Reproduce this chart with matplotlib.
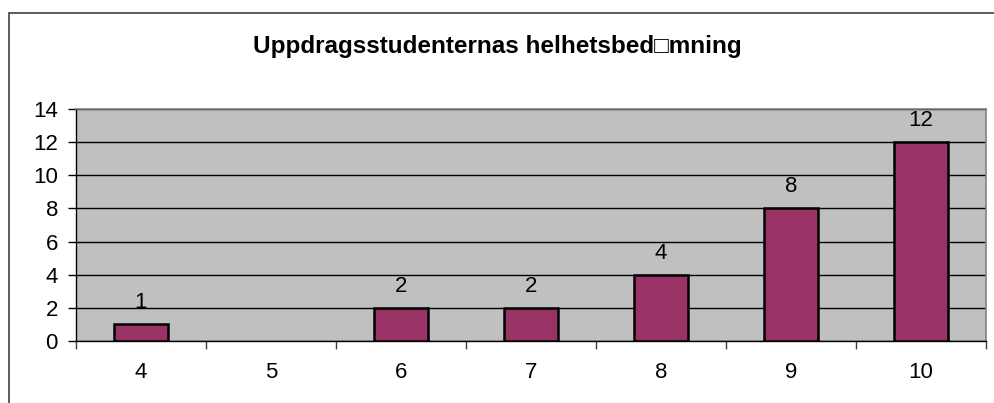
import numpy as np
import matplotlib.pyplot as plt
from matplotlib.patches import Rectangle

# data
grades = ["4", "5", "6", "7", "8", "9", "10"]
counts = [1, 0, 2, 2, 4, 8, 12]
title = "Uppdragsstudenternas helhetsbed\u25a1mning"

plt.rcParams['font.family'] = ['Liberation Sans', 'DejaVu Sans']

W, H = 994, 403
fig = plt.figure(figsize=(W / 100, H / 100), dpi=100)

# plot area in pixels
left, right, top, bottom = 76, 986, 109, 341
ax = fig.add_axes([left / W, 1 - bottom / H, (right - left) / W, (bottom - top) / H])

# outer chart frame (cropped at right / bottom)
fig.patches.append(Rectangle((9 / W, -0.1), 1.2, 1 - 13 / H + 0.1,
                             transform=fig.transFigure, fill=False,
                             edgecolor='#404040', lw=1.2))

ax.set_facecolor('#C0C0C0')
x = np.arange(len(grades))
ax.set_axisbelow(True)
ax.yaxis.grid(True, color='black', lw=1)
bars = ax.bar(x, counts, width=0.41, color='#993366', edgecolor='black',
              linewidth=1.8, zorder=3)
for b, c in zip(bars, counts):
    if c == 0:
        b.set_linewidth(0)

for xi, c in zip(x, counts):
    if c > 0:
        ax.annotate(str(c), (xi, c), xytext=(0, 11.5), textcoords='offset points',
                    ha='center', va='baseline', fontsize=16)

ax.set_xlim(-0.5, len(grades) - 0.5)
ax.set_ylim(0, 14)
ax.set_yticks(range(0, 15, 2))
ax.set_xticks(x)
ax.set_xticklabels(grades)
ax.set_xticks(np.arange(-0.5, len(grades)), minor=True)
ax.tick_params(axis='x', which='major', length=0, pad=15, labelsize=16)
ax.tick_params(axis='x', which='minor', length=6, width=1, color='#404040')
ax.tick_params(axis='y', length=6, width=1, pad=7, labelsize=16)

for s in ['top', 'right']:
    ax.spines[s].set_color('#808080')
    ax.spines[s].set_linewidth(1.2)
for s in ['left', 'bottom']:
    ax.spines[s].set_color('black')
    ax.spines[s].set_linewidth(1)

fig.text(0.5, 1 - 47 / H, title, ha='center', va='center',
         fontsize=17.5, fontweight='bold')

fig.savefig("out.png", dpi=100)
